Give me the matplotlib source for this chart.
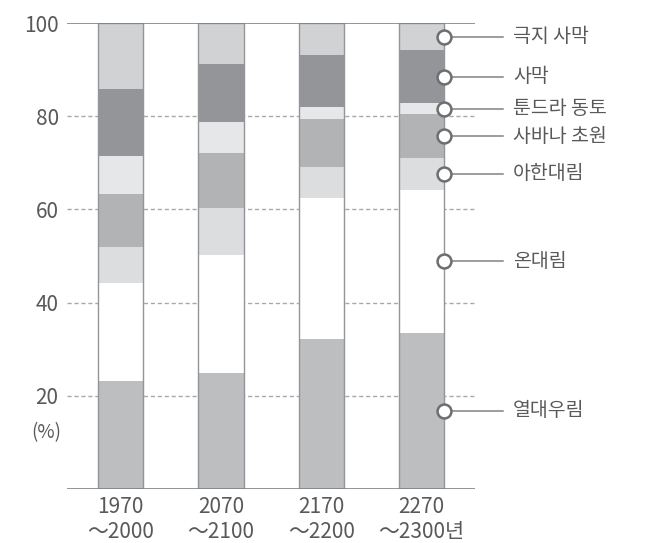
import matplotlib
matplotlib.use("Agg")
import matplotlib.pyplot as plt
import numpy as np

plt.rcParams['font.family'] = ['Noto Sans CJK KR', 'DejaVu Sans']

# Periods on the x axis
periods = ['1970\n～2000', '2070\n～2100', '2170\n～2200', '2270\n～2300년']

# Biome shares (%), stacked from bottom to top
biomes = ['열대우림', '온대림', '아한대림', '사바나 초원', '툰드라 동토', '사막', '극지 사막']
tropical_forest = [23.2, 25.0, 32.2, 33.5]
temperate_forest = [20.9, 25.2, 30.3, 30.7]
boreal_forest = [7.8, 10.2, 6.7, 6.8]
savanna = [11.3, 11.6, 10.3, 9.4]
tundra = [8.3, 6.8, 2.5, 2.4]
desert = [14.3, 12.4, 11.1, 11.3]
polar_desert = [14.2, 8.8, 6.9, 5.9]

series = [tropical_forest, temperate_forest, boreal_forest, savanna,
          tundra, desert, polar_desert]
colors = ['#bcbec0', '#ffffff', '#dcdddf', '#b1b3b5', '#e6e7e8', '#939598', '#d1d2d4']

yticks = [20, 40, 60, 80, 100]

text_color = '#58595b'
line_color = '#808285'

fig = plt.figure(figsize=(6.48, 5.43), dpi=100)
ax = fig.add_axes([67 / 648, 54 / 543, 408 / 648, 466 / 543])

x = np.arange(len(periods))
width = 0.45

# dashed reference lines behind the bars
for v in yticks[:-1]:
    ax.axhline(v, color='#a7a9ac', lw=1.0, ls=(0, (3, 2)), zorder=0)
ax.axhline(100, color=line_color, lw=1.2, zorder=3)
ax.axhline(0, color=line_color, lw=1.2, zorder=3)

bottom = np.zeros(len(periods))
for vals, c in zip(series, colors):
    vals = np.array(vals)
    ax.bar(x, vals, width, bottom=bottom, color=c, linewidth=0, zorder=1)
    bottom += vals

# bar outlines
ax.bar(x, bottom, width, fill=False, edgecolor='#939598', linewidth=1.0, zorder=2)

ax.set_xlim(-0.537, 3.535)
ax.set_ylim(0, 100)
for s in ax.spines.values():
    s.set_visible(False)

ax.set_yticks(yticks)
ax.set_yticklabels([str(v) for v in yticks], fontsize=15, color=text_color)
ax.tick_params(axis='y', length=0, pad=6)
ax.text(-0.59, 12, '(%)', ha='right', va='center', fontsize=13.5, color=text_color)

ax.set_xticks(x)
ax.set_xticklabels(periods, fontsize=15, color=text_color, linespacing=1.2)
ax.tick_params(axis='x', length=0, pad=5)

# callout labels at the right edge of the last bar
last = len(periods) - 1
edge = x[last] + width / 2
cum = 0.0
for name, vals in zip(biomes, series):
    mid = cum + vals[last] / 2
    cum += vals[last]
    ax.plot([edge, 3.814], [mid, mid], color=line_color, lw=1.1,
            clip_on=False, zorder=4)
    ax.plot(edge, mid, marker='o', ms=10, mfc='white', mec='#6d6e71', mew=1.8,
            clip_on=False, zorder=5)
    ax.text(3.914, mid, name, ha='left', va='center', fontsize=14,
            color=text_color, clip_on=False)

fig.savefig('out.png', dpi=100)
